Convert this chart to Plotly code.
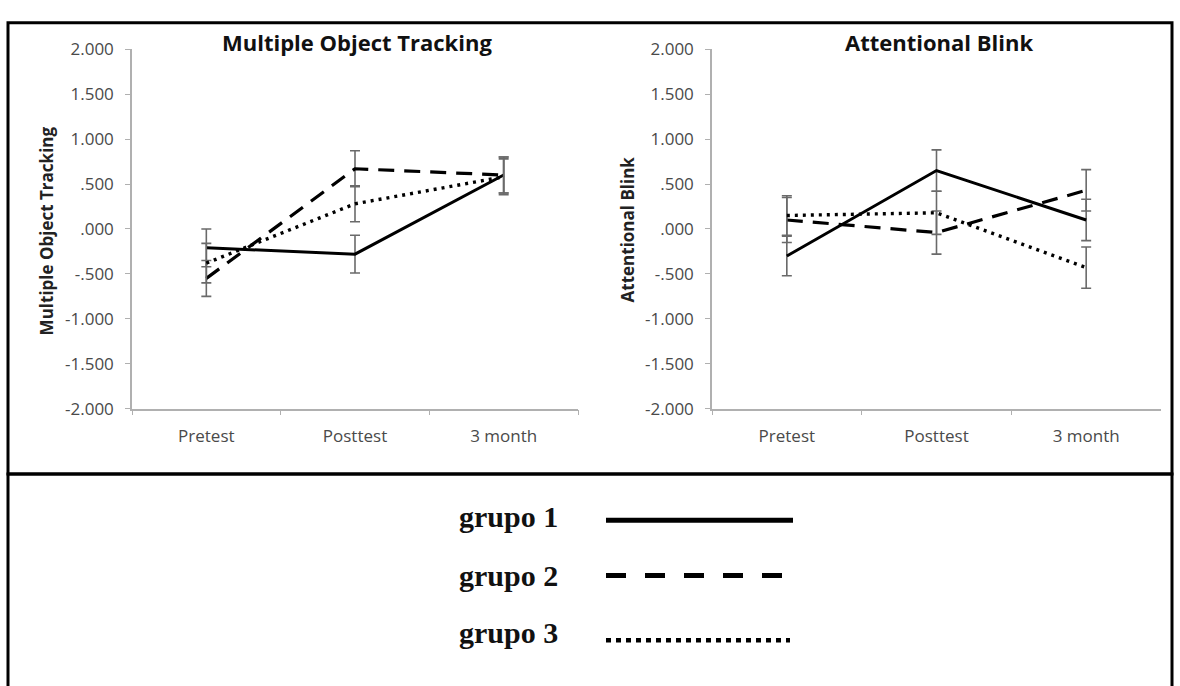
import plotly.graph_objects as go

categories = ["Pretest", "Posttest", "3 month"]
group_names = ["grupo 1", "grupo 2", "grupo 3"]

# Multiple Object Tracking
mot_g1 = [-0.21, -0.28, 0.60]
mot_g1_err = [0.21, 0.21, 0.20]
mot_g2 = [-0.55, 0.67, 0.60]
mot_g2_err = [0.20, 0.20, 0.20]
mot_g3 = [-0.38, 0.28, 0.58]
mot_g3_err = [0.22, 0.20, 0.20]

# Attentional Blink
ab_g1 = [-0.30, 0.65, 0.10]
ab_g1_err = [0.22, 0.23, 0.23]
ab_g2 = [0.10, -0.04, 0.43]
ab_g2_err = [0.25, 0.24, 0.23]
ab_g3 = [0.15, 0.18, -0.43]
ab_g3_err = [0.22, 0.24, 0.23]

y_tickvals = [2.0, 1.5, 1.0, 0.5, 0.0, -0.5, -1.0, -1.5, -2.0]
y_ticktext = ["2.000", "1.500", "1.000", ".500", ".000", "-.500", "-1.000", "-1.500", "-2.000"]

W, H = 1180, 686
def px(x):
    return x / W
def py(y):
    return 1 - y / H

dashes = ["solid", "16px,10px", "3px,5px"]
widths = [3, 3.2, 3.4]

fig = go.Figure()

panels = [
    ("x", "y", [mot_g1, mot_g2, mot_g3], [mot_g1_err, mot_g2_err, mot_g3_err]),
    ("x2", "y2", [ab_g1, ab_g2, ab_g3], [ab_g1_err, ab_g2_err, ab_g3_err]),
]
for xa, ya, series, errs in panels:
    for i, (vals, err) in enumerate(zip(series, errs)):
        fig.add_trace(go.Scatter(
            x=categories, y=vals, xaxis=xa, yaxis=ya, mode="lines",
            name=group_names[i], showlegend=False,
            line=dict(color="black", width=widths[i], dash=dashes[i]),
            error_y=dict(type="data", array=err, visible=True,
                         color="#6a6a6a", thickness=1.6, width=5),
        ))

tick_font = dict(family="Open Sans", size=17, color="#4a4a4a")
axis_common = dict(showline=True, linecolor="#b0b0b0", linewidth=1.5,
                   showgrid=False, zeroline=False, ticks="outside",
                   tickcolor="#b0b0b0", ticklen=5, tickwidth=1.2,
                   tickfont=tick_font)

xa_common = dict(axis_common, type="category", categoryorder="array",
                 categoryarray=categories, range=[-0.5, 2.5], tickson="boundaries",
                 ticklabelstandoff=11)
ya_common = dict(axis_common, range=[-2, 2], tickvals=y_tickvals, ticktext=y_ticktext,
                 ticklabelstandoff=8)

fig.update_layout(
    width=W, height=H, margin=dict(l=0, r=0, t=0, b=0),
    paper_bgcolor="white", plot_bgcolor="white", showlegend=False,
    xaxis=dict(xa_common, domain=[px(132), px(578)], anchor="y"),
    yaxis=dict(ya_common, domain=[py(410.5), py(38.5)], anchor="x"),
    xaxis2=dict(xa_common, domain=[px(712), px(1161)], anchor="y2"),
    yaxis2=dict(ya_common, domain=[py(410.5), py(38.5)], anchor="x2"),
)

title_font = dict(family="Open Sans", size=22, color="#111")
ytitle_font = dict(family="Open Sans", size=17, color="#222")
annotations = [
    dict(text="<b>Multiple Object Tracking</b>", x=px(357), y=py(31), font=title_font),
    dict(text="<b>Attentional Blink</b>", x=px(939), y=py(31), font=title_font),
    dict(text="<b>Multiple Object Tracking</b>", x=px(46), y=py(227), textangle=-90,
         font=ytitle_font),
    dict(text="<b>Attentional Blink</b>", x=px(627), y=py(225), textangle=-90,
         font=ytitle_font),
]
legend_text_y = [522, 583, 642]
for name, yy in zip(group_names, legend_text_y):
    annotations.append(dict(text="<b>" + name + "</b>", x=px(560), y=py(yy),
                            xanchor="right",
                            font=dict(family="Liberation Serif, Times New Roman, serif",
                                      size=30, color="#111")))
for a in annotations:
    a.setdefault("xref", "paper")
    a.setdefault("yref", "paper")
    a.setdefault("showarrow", False)
    a.setdefault("xanchor", "center")
    a.setdefault("yanchor", "middle")
fig.update_layout(annotations=annotations)

shapes = [
    dict(type="rect", x0=px(8), x1=px(1172), y0=py(478), y1=py(11),
         line=dict(color="black", width=3)),
    dict(type="rect", x0=px(8), x1=px(1172), y0=py(700), y1=py(478),
         line=dict(color="black", width=3)),
]
legend_line_y = [526, 583, 650]
leg_x1 = [793, 786, 790]
leg_dash = ["solid", "20px,19px", "5px,5px"]
leg_w = [5, 5, 4.5]
for yy, x1, d, w in zip(legend_line_y, leg_x1, leg_dash, leg_w):
    shapes.append(dict(type="line", x0=px(606), x1=px(x1), y0=py(yy), y1=py(yy),
                       line=dict(color="black", width=w, dash=d)))
for s in shapes:
    s["xref"] = "paper"
    s["yref"] = "paper"
fig.update_layout(shapes=shapes)

fig.write_html("out.html")
